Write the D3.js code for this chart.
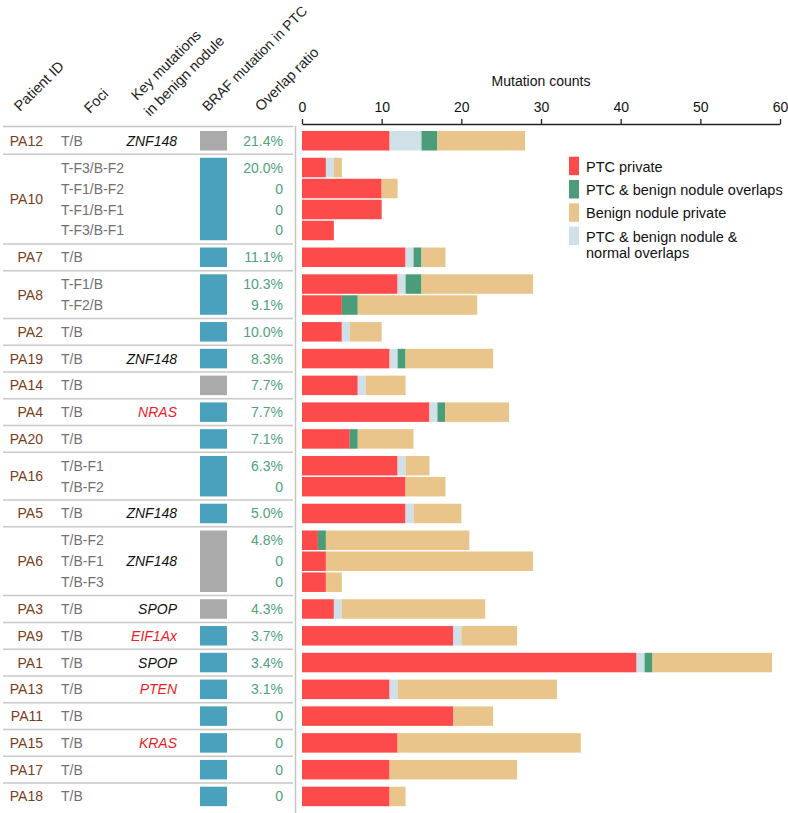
<!DOCTYPE html>
<html>
<head>
<meta charset="utf-8">
<script src="https://cdn.jsdelivr.net/npm/d3@7"></script>
<style>
  body { margin: 0; background: #fff; }
  text { font-family: "Liberation Sans", Arial, Helvetica, sans-serif; }
</style>
</head>
<body>
<div id="chart"></div>
<script>
// groups (patients)
var patients = ["PA12","PA10","PA7","PA8","PA2","PA19","PA14","PA4","PA20","PA16","PA5","PA6","PA3","PA9","PA1","PA13","PA11","PA15","PA17","PA18"]
var groupSize = [1,4,1,2,1,1,1,1,1,2,1,3,1,1,1,1,1,1,1,1]
var keyMutation = ["ZNF148","","","","","ZNF148","","NRAS","","","ZNF148","ZNF148","SPOP","EIF1Ax","SPOP","PTEN","","KRAS","",""]
var keyIsDriver = [false,false,false,false,false,false,false,true,false,false,false,false,false,true,false,true,false,true,false,false]
var brafMutant = [false,true,true,true,true,true,false,true,true,true,true,false,false,true,true,true,true,true,true,true]

// samples (one bar each)
var foci = ["T/B","T-F3/B-F2","T-F1/B-F2","T-F1/B-F1","T-F3/B-F1","T/B","T-F1/B","T-F2/B","T/B","T/B","T/B","T/B","T/B","T/B-F1","T/B-F2","T/B","T/B-F2","T/B-F1","T/B-F3","T/B","T/B","T/B","T/B","T/B","T/B","T/B","T/B"]
var ptcPrivate     = [11,3,10,10,4,13,12,5,5,11,7,16,6,12,13,13,2,3,3,4,19,42,11,19,12,11,11]
var allOverlap     = [4,1,0,0,0,1,1,0,1,1,1,1,0,1,0,1,0,0,0,1,1,1,1,0,0,0,0]
var benignOverlap  = [2,0,0,0,0,1,2,2,0,1,0,1,1,0,0,0,1,0,0,0,0,1,0,0,0,0,0]
var benignPrivate  = [11,1,2,0,0,3,14,15,4,11,5,8,7,3,5,6,18,26,2,18,7,15,20,5,23,16,2]
var overlapRatio = ["21.4%","20.0%","0","0","0","11.1%","10.3%","9.1%","10.0%","8.3%","7.7%","7.7%","7.1%","6.3%","0","5.0%","4.8%","0","0","4.3%","3.7%","3.4%","3.1%","0","0","0","0"]

var xTicks = [0,10,20,30,40,50,60]
var seriesNames = ["PTC private","PTC & benign nodule & normal overlaps","PTC & benign nodule overlaps","Benign nodule private"]
var seriesColors = ["#fd4b4b","#cfe0e9","#4b9d79","#e9c58b"]
var legendOrder = [0,2,3,1]

var width = 788, height = 813
var svg = d3.select("#chart").append("svg")
  .attr("width", width).attr("height", height)

// layout: sample slot index plus extra space between patient groups
var groupGap = 0.276
var samples = []
var s = 0
for (var g = 0; g < patients.length; g++) {
  for (var k = 0; k < groupSize[g]; k++) {
    samples.push({idx: s, group: g, pos: s + g * groupGap})
    s++
  }
}
var lastPos = samples[samples.length - 1].pos
var barH = 19.5

var yScale = d3.scaleLinear().domain([0, lastPos]).range([131, 786.7])
var xScale = d3.scaleLinear().domain([0, 60]).range([302, 780])

// stacked data
var rows = samples.map(function(d) {
  return {idx: d.idx, v0: ptcPrivate[d.idx], v1: allOverlap[d.idx], v2: benignOverlap[d.idx], v3: benignPrivate[d.idx]}
})
var stack = d3.stack().keys(["v0","v1","v2","v3"])(rows)

// group extents
var groups = patients.map(function(p, g) {
  var ss = samples.filter(function(d) { return d.group == g })
  var top = yScale(ss[0].pos)
  var bottom = yScale(ss[ss.length - 1].pos) + barH
  return {g: g, top: top, bottom: bottom, mid: (top + bottom) / 2}
})

// separator lines
svg.append("line")
  .attr("x1", 3).attr("x2", 293).attr("y1", 126.5).attr("y2", 126.5)
  .style("stroke", "#c4c4c4").style("stroke-width", 1.5)
for (var g = 0; g < groups.length - 1; g++) {
  var yy = (groups[g].bottom + groups[g + 1].top) / 2
  svg.append("line")
    .attr("x1", 3).attr("x2", 293).attr("y1", yy).attr("y2", yy)
    .style("stroke", "#c8c8c8").style("stroke-width", 1.5)
}
svg.append("line")
  .attr("x1", 295.5).attr("x2", 295.5).attr("y1", 126).attr("y2", height)
  .style("stroke", "#c4c4c4").style("stroke-width", 1.5)

// headers
var headers = [
  {t: "Patient ID", x: 20, y: 112, fs: 14.5},
  {t: "Foci", x: 90, y: 114, fs: 14.5},
  {t: "Key mutations", x: 137, y: 101, fs: 14.5},
  {t: "in benign nodule", x: 150, y: 117, fs: 14.5},
  {t: "BRAF mutation in PTC", x: 208, y: 112, fs: 14},
  {t: "Overlap ratio", x: 261, y: 112, fs: 14.5}
]
svg.selectAll(".hdr").data(headers).enter().append("text")
  .attr("transform", function(d) { return "translate(" + d.x + "," + d.y + ") rotate(-45)" })
  .text(function(d) { return d.t })
  .style("font-size", function(d) { return d.fs + "px" }).style("fill", "#222")

// patient IDs
svg.selectAll(".pid").data(groups).enter().append("text")
  .attr("x", 43).attr("y", function(d) { return d.mid + 5 })
  .attr("text-anchor", "end")
  .text(function(d) { return patients[d.g] })
  .style("font-size", "14px").style("fill", "#7a3d1c")

// key mutations
svg.selectAll(".km").data(groups).enter().append("text")
  .attr("x", 177).attr("y", function(d) { return d.mid + 5 })
  .attr("text-anchor", "end")
  .text(function(d) { return keyMutation[d.g] })
  .style("font-size", "14px").style("font-style", "italic")
  .style("fill", function(d) { return keyIsDriver[d.g] ? "#ee1c2a" : "#111" })

// BRAF boxes
svg.selectAll(".braf").data(groups).enter().append("rect")
  .attr("x", 200).attr("width", 27)
  .attr("y", function(d) { return d.top })
  .attr("height", function(d) { return d.bottom - d.top })
  .style("fill", function(d) { return brafMutant[d.g] ? "#4aa1be" : "#aaaaaa" })

// foci
svg.selectAll(".foci").data(samples).enter().append("text")
  .attr("x", 61).attr("y", function(d) { return yScale(d.pos) + barH / 2 + 5 })
  .text(function(d) { return foci[d.idx] })
  .style("font-size", "14px").style("fill", "#707070")

// overlap ratio
svg.selectAll(".ratio").data(samples).enter().append("text")
  .attr("x", 283).attr("y", function(d) { return yScale(d.pos) + barH / 2 + 5 })
  .attr("text-anchor", "end")
  .text(function(d) { return overlapRatio[d.idx] })
  .style("font-size", "14px").style("fill", "#4fa27c")

// bars
svg.selectAll(".layer").data(stack).enter().append("g")
  .style("fill", function(d, i) { return seriesColors[i] })
  .selectAll("rect").data(function(d) { return d }).enter().append("rect")
  .attr("x", function(d) { return xScale(d[0]) })
  .attr("width", function(d) { return xScale(d[1]) - xScale(d[0]) })
  .attr("y", function(d) { return yScale(samples[d.data.idx].pos) })
  .attr("height", barH)

// axis
var axis = d3.axisTop(xScale).tickValues(xTicks).tickSize(5).tickSizeOuter(0).tickPadding(7)
var ax = svg.append("g")
  .attr("transform", "translate(0,124)")
  .call(axis)
ax.selectAll("text").style("font-size", "14px").style("fill", "#111")
  .style("font-family", "Liberation Sans, Arial, sans-serif")
ax.selectAll("line, path").style("stroke", "#222").style("stroke-width", 1.3)

svg.append("text")
  .attr("x", xScale(30)).attr("y", 86)
  .attr("text-anchor", "middle")
  .text("Mutation counts")
  .style("font-size", "14px").style("fill", "#111")

// legend
var legend = svg.selectAll(".leg").data(legendOrder).enter().append("g")
  .attr("transform", function(d, i) { return "translate(569," + (156.7 + i * 23.3) + ")" })
legend.append("rect")
  .attr("width", 10).attr("height", 18.5)
  .style("fill", function(d) { return seriesColors[d] })
legend.append("text")
  .attr("x", 17).attr("y", 15)
  .style("font-size", "14.5px").style("fill", "#111")
  .each(function(d) {
    var name = seriesNames[d]
    var t = d3.select(this)
    if (d == 1) {
      t.append("tspan").attr("x", 17).text("PTC & benign nodule &")
      t.append("tspan").attr("x", 17).attr("dy", 16).text("normal overlaps")
    } else {
      t.text(name)
    }
  })
</script>
</body>
</html>
